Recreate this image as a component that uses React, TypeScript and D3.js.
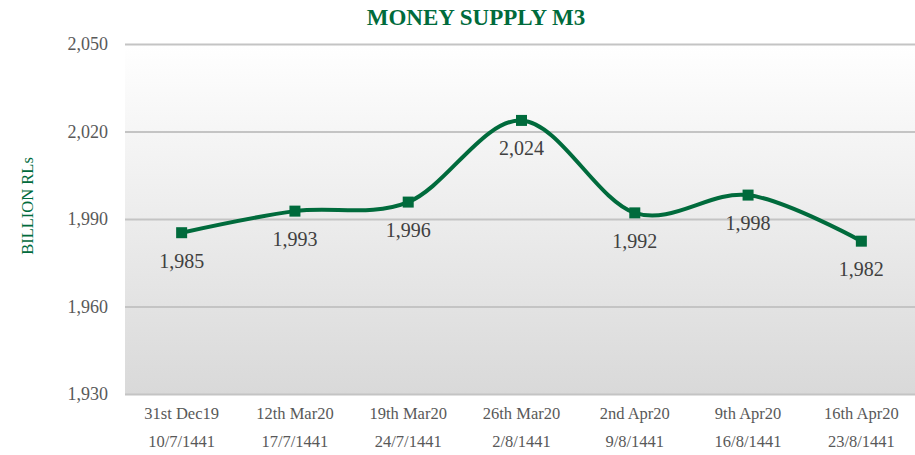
import { useEffect, useRef } from "react";
import * as d3 from "d3";

// Chart data
const dateLabels = ["31st Dec19", "12th Mar20", "19th Mar20", "26th Mar20", "2nd Apr20", "9th Apr20", "16th Apr20"];
const hijriLabels = ["10/7/1441", "17/7/1441", "24/7/1441", "2/8/1441", "9/8/1441", "16/8/1441", "23/8/1441"];
const m3Values = [1985.3, 1992.7, 1995.8, 2023.8, 1992.1, 1998.2, 1982.4];
const yTicks = [1930, 1960, 1990, 2020, 2050];

const WIDTH = 915;
const HEIGHT = 455;
const GREEN = "#006b3c";
const FONT = "'Liberation Serif', 'Times New Roman', serif";

export default function App() {
  const svgRef = useRef<SVGSVGElement>(null);

  useEffect(() => {
    if (!svgRef.current) return;
    const svg = d3.select(svgRef.current);
    svg.selectAll("*").remove();

    const margin = { top: 44, right: -3, bottom: 61, left: 125 };
    const innerWidth = WIDTH - margin.left - margin.right;
    const innerHeight = HEIGHT - margin.top - margin.bottom;

    const x = d3.scaleBand<number>().domain(d3.range(m3Values.length)).range([0, innerWidth]);
    const y = d3.scaleLinear().domain([1930, 2050]).range([innerHeight, 0]);
    const cx = (i: number) => (x(i) as number) + x.bandwidth() / 2;

    // Background gradient
    const grad = svg
      .append("defs")
      .append("linearGradient")
      .attr("id", "plot-bg")
      .attr("x1", "0%")
      .attr("y1", "0%")
      .attr("x2", "0%")
      .attr("y2", "100%");
    grad.append("stop").attr("offset", "0%").attr("stop-color", "#ffffff");
    grad.append("stop").attr("offset", "100%").attr("stop-color", "#d9d9d9");

    const g = svg.append("g").attr("transform", `translate(${margin.left},${margin.top})`);

    g.append("rect")
      .attr("x", 0)
      .attr("y", 0)
      .attr("width", innerWidth)
      .attr("height", innerHeight)
      .attr("fill", "url(#plot-bg)");

    // Grid lines
    g.append("g")
      .call(d3.axisLeft(y).tickValues(yTicks).tickSize(-innerWidth).tickFormat(() => ""))
      .call((s) => s.select(".domain").remove())
      .selectAll(".tick line")
      .attr("stroke", "#c4c4c4")
      .attr("stroke-width", 2);

    // Y axis labels
    g.append("g")
      .selectAll("text")
      .data(yTicks)
      .join("text")
      .attr("x", -17)
      .attr("y", (d) => y(d))
      .attr("dy", "0.35em")
      .attr("text-anchor", "end")
      .attr("font-family", FONT)
      .attr("font-size", "18px")
      .attr("fill", "#595959")
      .text((d) => d3.format(",")(d));

    // X axis labels, two rows
    const xl = g.append("g").attr("font-family", FONT).attr("font-size", "16.5px").attr("fill", "#595959");
    xl.selectAll("text.d")
      .data(dateLabels)
      .join("text")
      .attr("class", "d")
      .attr("x", (_, i) => cx(i))
      .attr("y", innerHeight + 25)
      .attr("text-anchor", "middle")
      .text((d) => d);
    xl.selectAll("text.h")
      .data(hijriLabels)
      .join("text")
      .attr("class", "h")
      .attr("x", (_, i) => cx(i))
      .attr("y", innerHeight + 53)
      .attr("text-anchor", "middle")
      .text((d) => d);

    // Line
    const line = d3
      .line<number>()
      .x((_, i) => cx(i))
      .y((d) => y(d))
      .curve(d3.curveCardinal.tension(0));

    g.append("path")
      .datum(m3Values)
      .attr("fill", "none")
      .attr("stroke", GREEN)
      .attr("stroke-width", 4)
      .attr("d", line);

    // Markers
    g.selectAll("rect.m")
      .data(m3Values)
      .join("rect")
      .attr("class", "m")
      .attr("x", (_, i) => cx(i) - 5.5)
      .attr("y", (d) => y(d) - 5.5)
      .attr("width", 11)
      .attr("height", 11)
      .attr("fill", GREEN);

    // Data labels
    g.selectAll("text.v")
      .data(m3Values)
      .join("text")
      .attr("class", "v")
      .attr("x", (_, i) => cx(i))
      .attr("y", (d) => y(d) + 35)
      .attr("text-anchor", "middle")
      .attr("font-family", FONT)
      .attr("font-size", "20px")
      .attr("fill", "#404040")
      .text((d) => d3.format(",.0f")(d));

    // Title
    svg
      .append("text")
      .attr("x", 476)
      .attr("y", 25)
      .attr("text-anchor", "middle")
      .attr("font-family", FONT)
      .attr("font-size", "23px")
      .attr("font-weight", "bold")
      .attr("fill", GREEN)
      .text("MONEY SUPPLY M3");

    // Y axis title
    svg
      .append("text")
      .attr("transform", `translate(33,206) rotate(-90)`)
      .attr("text-anchor", "middle")
      .attr("font-family", FONT)
      .attr("font-size", "16.5px")
      .attr("fill", GREEN)
      .text("BILLION RLs");
  }, []);

  return (
    <svg
      ref={svgRef}
      width={WIDTH}
      height={HEIGHT}
      style={{ position: "fixed", left: 0, top: 0, background: "#ffffff", display: "block" }}
    />
  );
}
